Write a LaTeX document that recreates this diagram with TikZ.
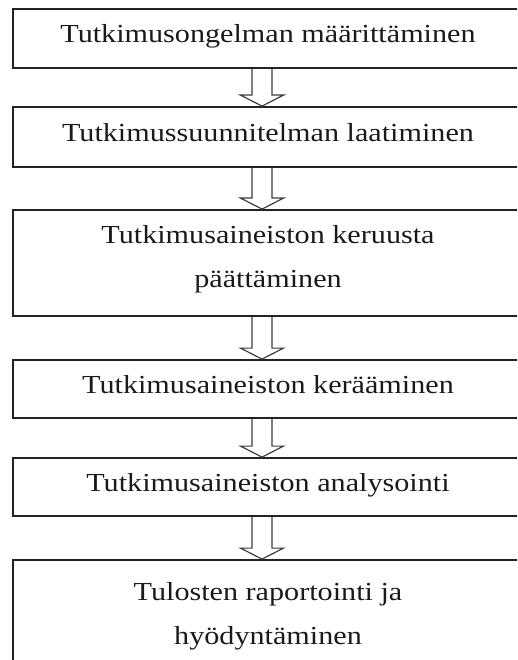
\documentclass[tikz,border=0pt]{standalone}
\usepackage{fontspec}
\setmainfont[FakeStretch=1.16]{Liberation Serif}
\usepackage{tikz}
\usepackage{xcolor}
\definecolor{boxline}{HTML}{222222}
\definecolor{arrowline}{HTML}{3C3C3C}
\definecolor{textcol}{HTML}{1A1A1A}

\begin{document}
\begin{tikzpicture}[x=1pt, y=-1pt,
    phase/.style={draw=boxline, line width=1.8pt, minimum width=510pt,
      align=center, text=textcol, font=\fontsize{26}{44}\selectfont,
      text height=17pt, text depth=8pt},
    twoline/.style={text height=61pt, text depth=13pt},
    hollowarrow/.style={draw=arrowline, line width=1.2pt, line join=miter}]
    \useasboundingbox (0,0) rectangle (517,660);
    \clip (0,0) rectangle (517,660);
    \node[phase, minimum height=59pt] (maar) at (268,38.5) {Tutkimusongelman määrittäminen};
    \node[phase, minimum height=60pt] (suun) at (268,137) {Tutkimussuunnitelman laatiminen};
    \node[phase, twoline, minimum height=106pt] (paat) at (268,263)
      {Tutkimusaineiston keruusta\\päättäminen};
    \node[phase, minimum height=58pt] (keru) at (268,389) {Tutkimusaineiston kerääminen};
    \node[phase, minimum height=58pt] (anal) at (268,487) {Tutkimusaineiston analysointi};
    \node[phase, twoline, minimum height=120pt] (rapo) at (268,620)
      {Tulosten raportointi ja\\hyödyntäminen};
    \foreach \a/\b in {maar/suun, suun/paat, paat/keru, keru/anal, anal/rapo}
      \draw[hollowarrow] ([xshift=-16pt]\a.south) -- ([xshift=-16pt,yshift=11pt]\b.north)
        -- ++(-11.5pt,0) -- ([xshift=-6pt]\b.north) -- ([xshift=15.5pt,yshift=11pt]\b.north)
        -- ++(-11.5pt,0) -- ([xshift=4pt]\a.south);
\end{tikzpicture}
\end{document}
